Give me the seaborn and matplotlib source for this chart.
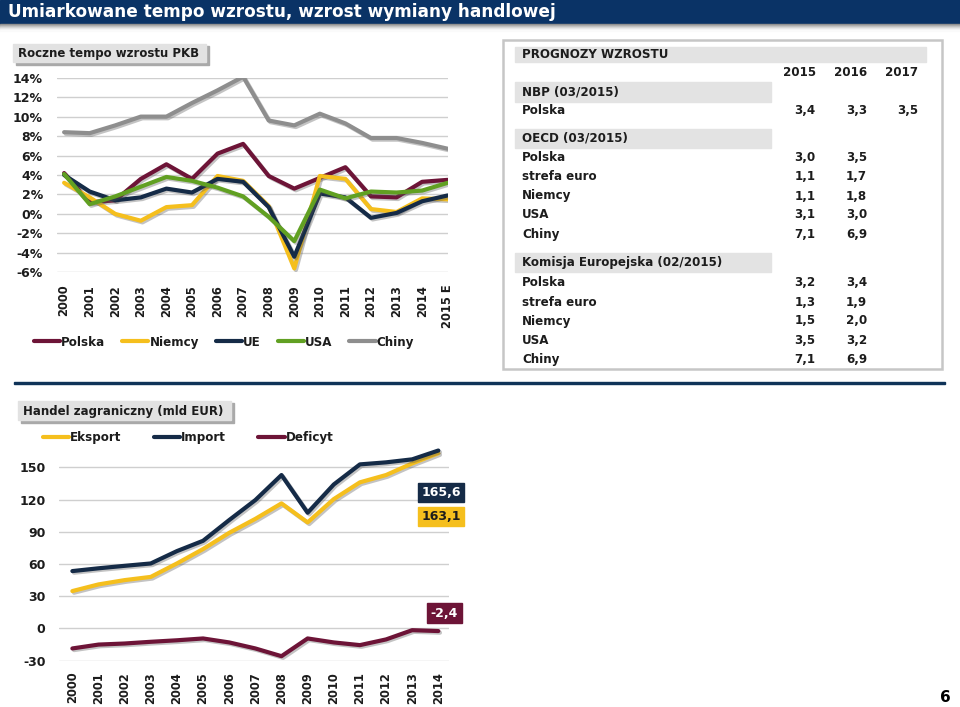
import numpy as np
import pandas as pd
import matplotlib
matplotlib.use('Agg')
import matplotlib.pyplot as plt
import matplotlib.patheffects as pe
from matplotlib.patches import Rectangle
from matplotlib.lines import Line2D
import seaborn as sns

# --- dane: roczne tempo wzrostu PKB (%) ---
gdp_years = ['2000', '2001', '2002', '2003', '2004', '2005', '2006', '2007',
             '2008', '2009', '2010', '2011', '2012', '2013', '2014', '2015 E']
polska = [4.2, 1.2, 1.4, 3.6, 5.1, 3.6, 6.2, 7.2, 3.9, 2.6, 3.7, 4.8, 1.8, 1.7, 3.3, 3.5]
niemcy = [3.2, 1.7, 0.0, -0.7, 0.7, 0.9, 3.9, 3.4, 0.8, -5.6, 3.9, 3.6, 0.5, 0.2, 1.6, 1.5]
ue = [4.0, 2.3, 1.4, 1.7, 2.6, 2.2, 3.6, 3.3, 0.7, -4.4, 2.1, 1.7, -0.4, 0.1, 1.3, 1.9]
usa = [4.1, 1.0, 1.8, 2.8, 3.8, 3.4, 2.7, 1.8, -0.3, -2.8, 2.5, 1.6, 2.3, 2.2, 2.4, 3.2]
chiny = [8.4, 8.3, 9.1, 10.0, 10.0, 11.4, 12.7, 14.1, 9.6, 9.1, 10.3, 9.3, 7.8, 7.8, 7.3, 6.7]

# --- dane: handel zagraniczny (mld EUR) ---
trade_years = ['2000', '2001', '2002', '2003', '2004', '2005', '2006', '2007',
               '2008', '2009', '2010', '2011', '2012', '2013', '2014']
eksport = [34.8, 41.0, 45.0, 48.0, 60.5, 73.9, 89.0, 102.0, 116.4, 98.7, 120.4, 136.0, 142.8, 153.6, 163.1]
importy = [53.4, 56.0, 58.3, 60.5, 72.0, 81.6, 100.9, 119.5, 142.8, 107.7, 134.0, 152.7, 154.6, 157.4, 165.6]
deficyt = [-18.6, -15.0, -14.0, -12.4, -11.0, -9.3, -13.0, -18.6, -25.8, -9.3, -13.0, -15.5, -10.2, -1.6, -2.4]

# --- tabela prognoz ---
forecast_head = ['2015', '2016', '2017']
nbp_rows = [('Polska', ['3,4', '3,3', '3,5'])]
oecd_rows = [('Polska', ['3,0', '3,5']), ('strefa euro', ['1,1', '1,7']), ('Niemcy', ['1,1', '1,8']),
             ('USA', ['3,1', '3,0']), ('Chiny', ['7,1', '6,9'])]
ke_rows = [('Polska', ['3,2', '3,4']), ('strefa euro', ['1,3', '1,9']), ('Niemcy', ['1,5', '2,0']),
           ('USA', ['3,5', '3,2']), ('Chiny', ['7,1', '6,9'])]

gdp_colors = {'Polska': '#6d1437', 'Niemcy': '#f5bf1d', 'UE': '#152b47',
              'USA': '#61a022', 'Chiny': '#8e8e8e'}
trade_colors = {'Eksport': '#f5bf1d', 'Import': '#152b47', 'Deficyt': '#6d1437'}

sns.set_theme(style='white')
plt.rcParams['font.family'] = ['DejaVu Sans']
plt.rcParams['axes.unicode_minus'] = False
W, H = 960, 707
fig = plt.figure(figsize=(W / 100, H / 100), dpi=100)


def fx(x):
    return x / W


def fy(y):
    return 1 - y / H


def ftext(x, y, s, **kw):
    fig.text(fx(x), fy(y), s, **kw)


def frect(x0, y0, x1, y1, **kw):
    fig.patches.append(Rectangle((fx(x0), fy(y1)), fx(x1) - fx(x0), fy(y0) - fy(y1),
                                 transform=fig.transFigure, figure=fig, **kw))


shadow = [pe.SimpleLineShadow(offset=(1.2, -1.2), shadow_color='#555555', alpha=0.35), pe.Normal()]
dark = '#1c1c1c'
lw = 3.0

# nagłówek
frect(0, 0, 960, 24, color='#0a3366', zorder=0)
for i, c in enumerate(['#8c8c8c', '#a6a6a6', '#bdbdbd', '#d2d2d2', '#e4e4e4', '#f2f2f2', '#fafafa']):
    frect(0, 24 + i, 960, 25 + i, color=c, zorder=0)
ftext(8, 12, 'Umiarkowane tempo wzrostu, wzrost wymiany handlowej', color='white',
      fontsize=12.2, fontweight='bold', va='center', ha='left')

# ---------- wykres PKB ----------
ax1 = fig.add_axes([fx(56.7), fy(272.3), fx(447.7) - fx(56.7), fy(77.7) - fy(272.3)])
gdp = pd.DataFrame({'Polska': polska, 'Niemcy': niemcy, 'UE': ue, 'USA': usa, 'Chiny': chiny})
gdp['x'] = np.arange(len(gdp_years))
gdp_long = gdp.melt(id_vars='x', var_name='kraj', value_name='wzrost')
sns.lineplot(data=gdp_long, x='x', y='wzrost', hue='kraj', palette=gdp_colors,
             linewidth=lw, ax=ax1, legend=False)
for ln in ax1.lines:
    ln.set_path_effects(shadow)
ax1.set_xlim(-0.29, len(gdp_years) - 1)
ax1.set_ylim(-6, 14)
ax1.set_yticks(range(-6, 15, 2))
ax1.set_yticklabels([f'{v}%' for v in range(-6, 15, 2)])
ax1.set_xticks(range(len(gdp_years)))
ax1.set_xticklabels(gdp_years, rotation=90)

# ---------- wykres handlu ----------
ax2 = fig.add_axes([fx(59.3), fy(660.7), fx(449.3) - fx(59.3), fy(445.8) - fy(660.7)])
trade = pd.DataFrame({'Eksport': eksport, 'Import': importy, 'Deficyt': deficyt})
trade['x'] = np.arange(len(trade_years))
trade_long = trade.melt(id_vars='x', var_name='seria', value_name='mld')
sns.lineplot(data=trade_long, x='x', y='mld', hue='seria', palette=trade_colors,
             linewidth=lw, ax=ax2, legend=False)
for ln in ax2.lines:
    ln.set_path_effects(shadow)
ax2.set_xlim(-0.5, 14.42)
ax2.set_ylim(-30, 170)
ax2.set_yticks(range(-30, 151, 30))
ax2.set_xticks(range(len(trade_years)))
ax2.set_xticklabels(trade_years, rotation=90)

for ax in (ax1, ax2):
    ax.grid(axis='y', color='#cfcfcf', linewidth=1.0)
    ax.grid(axis='x', visible=False)
    ax.set_axisbelow(True)
    sns.despine(ax=ax, left=True, bottom=True)
    ax.set_xlabel('')
    ax.set_ylabel('')
    ax.tick_params(axis='both', length=0, labelsize=9, labelcolor=dark)
    ax.tick_params(axis='y', pad=10)
    for t in ax.get_xticklabels() + ax.get_yticklabels():
        t.set_fontweight('bold')
    for t in ax.get_xticklabels():
        t.set_fontsize(8.3)
        t.set_va('top')
ax1.tick_params(axis='x', pad=9)
ax2.tick_params(axis='x', pad=8)

# tytuły wykresów
for (x0, y0, x1, y1, s) in [(13, 44, 206, 62, 'Roczne tempo wzrostu PKB'),
                            (18, 401, 231, 420, 'Handel zagraniczny (mld EUR)')]:
    frect(x0 + 3, y0 + 2, x1 + 3, y1 + 3, color='#a9a9a9', zorder=1)
    frect(x0, y0, x1, y1, color='#e2e2e2', zorder=2)
    ftext(x0 + 5, (y0 + y1) / 2 + 0.5, s, fontsize=8.5, fontweight='bold', color=dark,
          va='center', ha='left', zorder=3)

# legendy
gdp_handles = [Line2D([], [], color=c, lw=lw) for c in gdp_colors.values()]
fig.legend(gdp_handles, list(gdp_colors.keys()), loc='center left',
           bbox_to_anchor=(fx(23), fy(342)), ncol=5, frameon=False,
           handlelength=2.2, handletextpad=0.1, columnspacing=1.4,
           prop={'weight': 'bold', 'size': 8.6}, labelcolor=dark)
trade_handles = [Line2D([], [], color=c, lw=lw) for c in trade_colors.values()]
fig.legend(trade_handles, list(trade_colors.keys()), loc='center left',
           bbox_to_anchor=(fx(32), fy(438)), ncol=3, frameon=False,
           handlelength=2.2, handletextpad=0.1, columnspacing=2.7,
           prop={'weight': 'bold', 'size': 8.6}, labelcolor=dark)

# etykiety wartości końcowych
for (x0, y0, x1, y1, s, bg, fg) in [(418, 483, 464, 502, '165,6', '#152b47', 'white'),
                                    (418, 507, 464, 526, '163,1', '#f5bf1d', dark),
                                    (427, 603, 462, 623, '-2,4', '#6d1437', 'white')]:
    frect(x0, y0, x1, y1, color=bg, zorder=4)
    ftext((x0 + x1) / 2, (y0 + y1) / 2 + 0.5, s, fontsize=9, fontweight='bold', color=fg,
          ha='center', va='center', zorder=5)

# tabela prognoz
frect(503, 40, 942, 369, fill=False, edgecolor='#c6c6c6', linewidth=1.8, zorder=1)
frect(515, 46.7, 926, 62.3, color='#e3e3e3', zorder=1)
tkw = dict(fontsize=8.6, fontweight='bold', color=dark, va='center', zorder=3)
ftext(522, 55, 'PROGNOZY WZROSTU', ha='left', **tkw)
col_r = [815.7, 867.3, 918.3]
for xr, s in zip(col_r, forecast_head):
    ftext(xr, 72.5, s, ha='right', **tkw)

row_y = {'NBP (03/2015)': (92, [111]),
         'OECD (03/2015)': (138, [157.3, 176.7, 196, 215, 234.3]),
         'Komisja Europejska (02/2015)': (262.5, [282.7, 302, 321, 340.3, 359.3])}
for (name, rows) in zip(row_y.keys(), [nbp_rows, oecd_rows, ke_rows]):
    yb, ys = row_y[name]
    frect(515, yb - 9.5, 771, yb + 9.5, color='#e3e3e3', zorder=1)
    ftext(522, yb, name, ha='left', **tkw)
    for yy, (lab, vals) in zip(ys, rows):
        ftext(522, yy, lab, ha='left', **tkw)
        for xr, v in zip(col_r, vals):
            ftext(xr, yy, v, ha='right', **tkw)

# linia oddzielająca
frect(14, 381.5, 945, 384.5, color='#0f3358', zorder=1)

ftext(945, 697.5, '6', fontsize=11, fontweight='bold', color='black', ha='center', va='center')

fig.savefig('out.png', dpi=100)
